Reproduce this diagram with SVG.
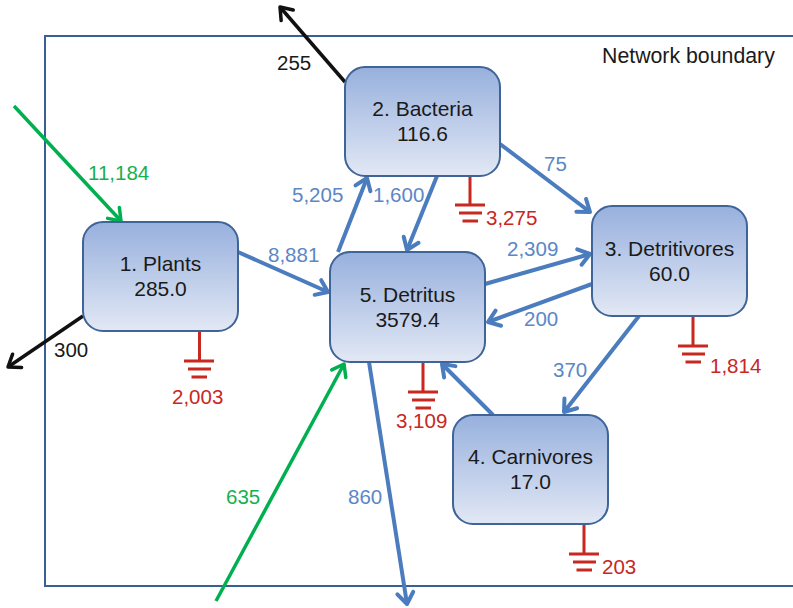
<svg xmlns="http://www.w3.org/2000/svg" width="793" height="608" viewBox="0 0 793 608">
  <style>
    .box { stroke: #3F6497; stroke-width: 2; fill: url(#nodeFill); }
    .name { font-family: "Liberation Sans", Arial, sans-serif; font-size: 21px; fill: #1a1a1a; text-anchor: middle; }
    .lbl { font-family: "Liberation Sans", Arial, sans-serif; font-size: 20.5px; }
    .blue-t { fill: #5B87C6; }
    .green-t { fill: #17B04F; }
    .red-t { fill: #C8281F; }
    .black-t { fill: #1a1a1a; }
    .flow { fill: none; stroke-width: 4; }
    .blue { stroke: #4A7CBE; marker-end: url(#arrowBlue); }
    .green { stroke: #00B050; stroke-width: 3.5; marker-end: url(#arrowGreen); }
    .black { stroke: #111111; stroke-width: 3.5; marker-end: url(#arrowBlack); }
    .ground { fill: none; stroke: #C8281F; stroke-width: 3; }
  </style>
  <defs>
    <linearGradient id="nodeFill" x1="0" y1="0" x2="0" y2="1">
      <stop offset="0" stop-color="#97B0DD"/>
      <stop offset="1" stop-color="#E2E8F5"/>
    </linearGradient>
    <marker id="arrowBlue" viewBox="-15 -15 30 30" markerWidth="30" markerHeight="30" markerUnits="userSpaceOnUse" refX="0" refY="0" orient="auto">
      <path d="M-11,-8 L0,0 L-11,8" fill="none" stroke="#4A7CBE" stroke-width="4" stroke-linejoin="round" stroke-linecap="round"/>
    </marker>
    <marker id="arrowGreen" viewBox="-15 -15 30 30" markerWidth="30" markerHeight="30" markerUnits="userSpaceOnUse" refX="0" refY="0" orient="auto">
      <path d="M-11,-8 L0,0 L-11,8" fill="none" stroke="#00B050" stroke-width="3.5" stroke-linejoin="round" stroke-linecap="round"/>
    </marker>
    <marker id="arrowBlack" viewBox="-15 -15 30 30" markerWidth="30" markerHeight="30" markerUnits="userSpaceOnUse" refX="0" refY="0" orient="auto">
      <path d="M-11,-8 L0,0 L-11,8" fill="none" stroke="#111111" stroke-width="3.5" stroke-linejoin="round" stroke-linecap="round"/>
    </marker>
  </defs>

  <rect width="793" height="608" fill="#ffffff"/>

  <!-- network boundary -->
  <g id="boundary">
    <path d="M800,36 H45 V586 H800" fill="none" stroke="#3A5E96" stroke-width="2"/>
    <text class="lbl black-t" x="602" y="63" style="font-size:21.3px">Network boundary</text>
  </g>

  <!-- flows between compartments and across the boundary -->
  <g id="connectors">
    <line class="flow green" x1="14" y1="106" x2="121" y2="221"/>
    <line class="flow black" x1="83" y1="316" x2="8" y2="367"/>
    <line class="flow black" x1="345" y1="82" x2="280" y2="7"/>
    <line class="flow blue" x1="238" y1="252" x2="328" y2="292"/>
    <line class="flow blue" x1="338" y1="252" x2="367" y2="178"/>
    <line class="flow blue" x1="437" y1="176" x2="407" y2="250"/>
    <line class="flow blue" x1="500" y1="144" x2="590" y2="212"/>
    <line class="flow blue" x1="485" y1="284" x2="590" y2="254"/>
    <line class="flow blue" x1="592" y1="284" x2="488" y2="322"/>
    <line class="flow blue" x1="639" y1="316" x2="564" y2="412"/>
    <line class="flow blue" x1="493" y1="415" x2="442" y2="364"/>
    <line class="flow blue" x1="369" y1="362" x2="407" y2="604"/>
    <line class="flow green" x1="216" y1="601" x2="344" y2="364"/>

    <text class="lbl green-t" x="88" y="180">11,184</text>
    <text class="lbl black-t" x="54" y="357">300</text>
    <text class="lbl black-t" x="277" y="70">255</text>
    <text class="lbl blue-t" x="268" y="262">8,881</text>
    <text class="lbl blue-t" x="292" y="202">5,205</text>
    <text class="lbl blue-t" x="373" y="202">1,600</text>
    <text class="lbl blue-t" x="544" y="171">75</text>
    <text class="lbl blue-t" x="507" y="256">2,309</text>
    <text class="lbl blue-t" x="524" y="326">200</text>
    <text class="lbl blue-t" x="553" y="377">370</text>
    <text class="lbl blue-t" x="348" y="504">860</text>
    <text class="lbl green-t" x="226" y="504">635</text>
  </g>

  <!-- respiration losses (ground symbols) -->
  <g id="losses">
    <path class="ground" d="M199.5,331 V361 M184,361 H214 M188,369 H211 M191.5,377 H207"/>
    <text class="lbl red-t" x="172" y="404">2,003</text>
    <path class="ground" d="M470,176 V205 M455,205 H485 M459,213 H482 M462.5,221 H478"/>
    <text class="lbl red-t" x="486" y="225">3,275</text>
    <path class="ground" d="M693,316 V346 M678,346 H708 M682,354 H705 M685.5,362 H701"/>
    <text class="lbl red-t" x="710" y="373">1,814</text>
    <path class="ground" d="M423,362 V392 M408,392 H438 M412,400 H435 M415.5,408 H431"/>
    <text class="lbl red-t" x="396" y="428">3,109</text>
    <path class="ground" d="M584,524 V554 M569,554 H599 M573,562 H596 M576.5,570 H592"/>
    <text class="lbl red-t" x="602" y="574">203</text>
  </g>

  <g id="plants">
    <rect class="box" x="83" y="222" width="155" height="109" rx="20"/>
    <text class="name" x="160.5" y="271">1. Plants</text>
    <text class="name" x="160.5" y="296">285.0</text>
  </g>
  <g id="bacteria">
    <rect class="box" x="345" y="67" width="155" height="109" rx="20"/>
    <text class="name" x="422.5" y="116">2. Bacteria</text>
    <text class="name" x="422.5" y="141">116.6</text>
  </g>
  <g id="detritivores">
    <rect class="box" x="592" y="206" width="155" height="110" rx="20"/>
    <text class="name" x="669.5" y="255.5">3. Detritivores</text>
    <text class="name" x="669.5" y="280.5">60.0</text>
  </g>
  <g id="carnivores">
    <rect class="box" x="453" y="415" width="155" height="109" rx="20"/>
    <text class="name" x="530.5" y="464">4. Carnivores</text>
    <text class="name" x="530.5" y="489">17.0</text>
  </g>
  <g id="detritus">
    <rect class="box" x="330" y="252" width="155" height="110" rx="20"/>
    <text class="name" x="407.5" y="301.5">5. Detritus</text>
    <text class="name" x="407.5" y="326.5">3579.4</text>
  </g>
</svg>
